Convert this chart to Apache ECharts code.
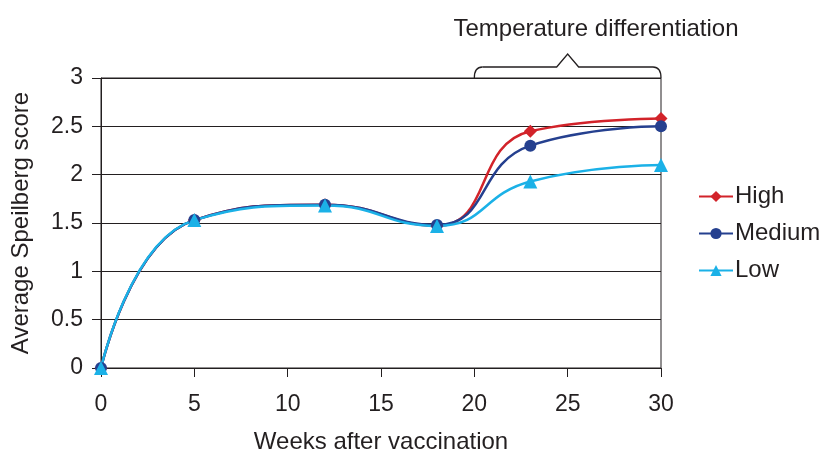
<!DOCTYPE html>
<html>
<head>
<meta charset="utf-8">
<script src="https://cdn.jsdelivr.net/npm/echarts@6/dist/echarts.min.js"></script>
<style>
  html, body { margin: 0; padding: 0; background: #fff; }
  #chart { width: 824px; height: 455px; }
</style>
</head>
<body>
<div id="chart"></div>
<script>
// Weeks after vaccination at which scores were taken
var weeks = [0, 5, 12, 18, 23, 30];
// Average Speilberg score per temperature group
var highScores = [0, 1.53, 1.69, 1.47, 2.45, 2.58];
var mediumScores = [0, 1.53, 1.69, 1.48, 2.30, 2.50];
var lowScores = [0, 1.53, 1.68, 1.47, 1.93, 2.10];
var seriesNames = ['High', 'Medium', 'Low'];
var bracketLabel = 'Temperature differentiation';
var bracketRange = [20, 30];

var FONT = 'Liberation Sans, Arial, sans-serif';
var TXT = '#231f20';
var INK = '#231f20';

function pairs(ys) {
  return weeks.map(function (w, i) { return [w, ys[i]]; });
}

var chart = echarts.init(document.getElementById('chart'), null, { renderer: 'canvas' });

function lineSeries(name, data, color, symbol, size) {
  return {
    name: name,
    type: 'line',
    data: pairs(data),
    smooth: 0.5,
    symbol: symbol,
    symbolSize: size,
    lineStyle: { color: color, width: 2.5 },
    itemStyle: { color: color },
    emphasis: { disabled: true },
    z: 3
  };
}

var option = {
  animation: false,
  grid: {
    left: 101, right: 163, top: 78, bottom: 87,
    outerBoundsMode: 'none', containLabel: false,
    show: true, borderColor: INK, borderWidth: 1
  },
  title: {
    text: bracketLabel,
    left: 591, top: 12,
    textAlign: 'center',
    textStyle: { fontFamily: FONT, fontSize: 24, fontWeight: 'normal', color: TXT }
  },
  legend: {
    orient: 'vertical',
    left: 693, top: 179,
    itemWidth: 34, itemHeight: 14, itemGap: 12,
    textStyle: { fontFamily: FONT, fontSize: 24, lineHeight: 25, color: TXT, padding: [0, 0, 0, -3] },
    data: seriesNames
  },
  xAxis: {
    type: 'value',
    min: 0, max: 30, interval: 5,
    name: 'Weeks after vaccination',
    nameLocation: 'middle', nameGap: 62,
    nameTextStyle: { fontFamily: FONT, fontSize: 24, color: TXT },
    axisLine: { onZero: false, lineStyle: { color: INK, width: 1 } },
    axisTick: { show: true, inside: false, length: 9, lineStyle: { color: INK } },
    axisLabel: { margin: 25, fontFamily: FONT, fontSize: 23, color: TXT },
    splitLine: { show: false }
  },
  yAxis: {
    type: 'value',
    min: 0, max: 3, interval: 0.5,
    name: 'Average Speilberg score',
    nameLocation: 'middle', nameGap: 68,
    nameTextStyle: { fontFamily: FONT, fontSize: 24, color: TXT },
    axisLine: { show: true, lineStyle: { color: INK, width: 1 } },
    axisTick: { show: true, inside: false, length: 9, lineStyle: { color: INK } },
    axisLabel: { margin: 18, fontFamily: FONT, fontSize: 23, color: TXT },
    splitLine: { show: true, lineStyle: { color: INK, width: 1 } }
  },
  series: [
    lineSeries(seriesNames[0], highScores, '#d2232a', 'diamond', 13),
    lineSeries(seriesNames[1], mediumScores, '#25408f', 'circle', 12),
    lineSeries(seriesNames[2], lowScores, '#1bb1e7', 'triangle', 14)
  ]
};
chart.setOption(option);

// Curly bracket over the weeks where the groups diverge
var pL = chart.convertToPixel({ gridIndex: 0 }, [bracketRange[0], 3]);
var pR = chart.convertToPixel({ gridIndex: 0 }, [bracketRange[1], 3]);
var yBase = pL[1];
var yBar = yBase - 11;
var xMid = (pL[0] + pR[0]) / 2;
var bend = 8;
var braceStyle = { fill: null, stroke: INK, lineWidth: 1.3 };
chart.setOption({
  graphic: [{
    type: 'group',
    silent: true,
    children: [
      {
        type: 'bezierCurve',
        shape: { x1: pL[0], y1: yBase, x2: pL[0] + bend, y2: yBar, cpx1: pL[0], cpy1: yBar },
        style: braceStyle
      },
      {
        type: 'polyline',
        shape: {
          points: [
            [pL[0] + bend, yBar],
            [xMid - 11, yBar],
            [xMid, yBar - 13],
            [xMid + 11, yBar],
            [pR[0] - bend, yBar]
          ]
        },
        style: braceStyle
      },
      {
        type: 'bezierCurve',
        shape: { x1: pR[0] - bend, y1: yBar, x2: pR[0], y2: yBase, cpx1: pR[0], cpy1: yBar },
        style: braceStyle
      }
    ]
  }]
});
</script>
</body>
</html>
